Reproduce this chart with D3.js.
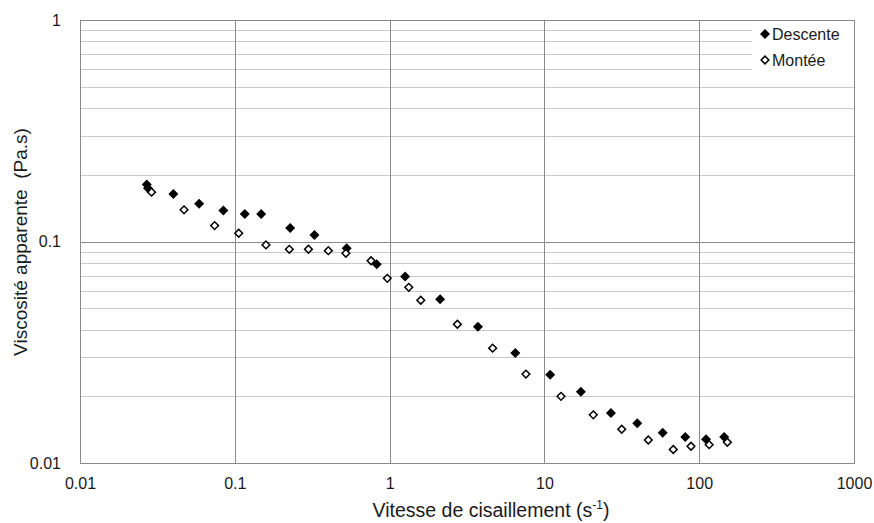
<!DOCTYPE html>
<html><head><meta charset="utf-8">
<script src="https://cdn.jsdelivr.net/npm/d3@7"></script>
<style>body{margin:0;background:#fff;}svg{display:block;font-family:"Liberation Sans",Arial,sans-serif;}</style>
</head><body>
<svg id="c" width="874" height="523"></svg>
<script>
const descenteX = [0.0270,0.0275,0.0401,0.0588,0.0844,0.116,0.148,0.228,0.327,0.528,0.826,1.26,2.12,3.72,6.49,10.9,17.2,26.9,39.8,58.1,81.3,110.7,145];
const descenteY = [0.181,0.174,0.164,0.148,0.138,0.133,0.133,0.115,0.107,0.0932,0.0789,0.0695,0.0548,0.0412,0.0314,0.0250,0.0210,0.0168,0.0151,0.0137,0.0131,0.0128,0.0131];
const monteeX = [0.0290,0.0470,0.0741,0.106,0.159,0.225,0.299,0.402,0.522,0.759,0.966,1.33,1.59,2.74,4.63,7.60,12.8,20.7,31.6,46.9,68.0,88.5,116,152];
const monteeY = [0.167,0.139,0.118,0.109,0.0965,0.0922,0.0923,0.0909,0.0885,0.0819,0.0682,0.0621,0.0543,0.0423,0.0330,0.0252,0.0200,0.0165,0.0142,0.0127,0.0115,0.0119,0.0121,0.0124];
const xTicks = [0.01,0.1,1,10,100,1000];
const xTickLabels = ["0.01","0.1","1","10","100","1000"];
const yTicks = [0.01,0.1,1];
const yTickLabels = ["0.01","0.1","1"];
const seriesNames = ["Descente","Montée"];

const svg = d3.select("#c");
const L=80,R=854,T=20,B=463;
const x = d3.scaleLog().domain([0.01,1000]).range([L,R]);
const y = d3.scaleLog().domain([0.01,1]).range([B,T]);
const txt = "#1a1a1a";
const FF = "'Liberation Sans',Arial,sans-serif";

// minor horizontal gridlines
const minor=[];
[0.01,0.1].forEach(d=>{for(let k=2;k<=9;k++) minor.push(d*k);});
svg.append("g").selectAll("line").data(minor).join("line")
  .attr("x1",L).attr("x2",R).attr("y1",d=>Math.round(y(d))+0.5).attr("y2",d=>Math.round(y(d))+0.5)
  .attr("stroke","#c8c8c8").attr("stroke-width",1);
// major gridlines
svg.append("g").selectAll("line").data(yTicks).join("line")
  .attr("x1",L).attr("x2",R).attr("y1",d=>Math.round(y(d))+0.5).attr("y2",d=>Math.round(y(d))+0.5)
  .attr("stroke","#8a8a8a");
svg.append("g").selectAll("line").data(xTicks).join("line")
  .attr("y1",T).attr("y2",B).attr("x1",d=>Math.round(x(d))+0.5).attr("x2",d=>Math.round(x(d))+0.5)
  .attr("stroke","#8a8a8a");
svg.append("rect").attr("x",L+0.5).attr("y",T+0.5).attr("width",R-L).attr("height",B-T)
  .attr("fill","none").attr("stroke","#8a8a8a");

// axis tick labels
const xa = svg.append("g").attr("transform",`translate(0,${B})`)
  .call(d3.axisBottom(x).tickValues(xTicks).tickFormat((d,i)=>xTickLabels[i]).tickSize(0).tickPadding(15));
const ya = svg.append("g").attr("transform",`translate(${L},0)`)
  .call(d3.axisLeft(y).tickValues(yTicks).tickFormat((d,i)=>yTickLabels[i]).tickSize(0).tickPadding(19));
[xa,ya].forEach(a=>{a.select(".domain").remove();a.selectAll("text").attr("fill",txt).style("font-size","16px").style("font-family",FF);});

const filledSym = d3.symbol().type(d3.symbolSquare).size(50);
const openSym = d3.symbol().type(d3.symbolSquare).size(30);
const dD = descenteX.map((v,i)=>[v,descenteY[i]]);
const dM = monteeX.map((v,i)=>[v,monteeY[i]]);
svg.append("g").selectAll("path").data(dD).join("path")
  .attr("d",filledSym).attr("transform",d=>`translate(${x(d[0])},${y(d[1])}) rotate(45)`)
  .attr("fill","#000");
svg.append("g").selectAll("path").data(dM).join("path")
  .attr("d",openSym).attr("transform",d=>`translate(${x(d[0])},${y(d[1])}) rotate(45)`)
  .attr("fill","#fff").attr("stroke","#000").attr("stroke-width",1.5);

// legend
svg.append("rect").attr("x",752).attr("y",T+1).attr("width",R-752).attr("height",50).attr("fill","#fff");
const lg = svg.append("g");
lg.append("path").attr("d",filledSym).attr("transform","translate(765,34) rotate(45)").attr("fill","#000");
lg.append("path").attr("d",openSym).attr("transform","translate(765,60) rotate(45)").attr("fill","#fff").attr("stroke","#000").attr("stroke-width",1.5);
lg.append("text").attr("x",772).attr("y",39.5).text(seriesNames[0]).attr("fill",txt).style("font-size","16px");
lg.append("text").attr("x",772).attr("y",65.5).text(seriesNames[1]).attr("fill",txt).style("font-size","16px");

// titles
const xt = svg.append("text").attr("x",491).attr("y",517).attr("text-anchor","middle").attr("fill",txt).style("font-size","19.5px");
xt.append("tspan").text("Vitesse de cisaillement (s");
xt.append("tspan").text("-1").attr("dy",-8).style("font-size","12px");
xt.append("tspan").text(")").attr("dy",8);
svg.append("text").attr("transform","translate(27,242) rotate(-90)").attr("text-anchor","middle").attr("fill",txt).style("font-size","19px")
  .style("white-space","pre").text("Viscosité apparente  (Pa.s)");
</script>
</body></html>
